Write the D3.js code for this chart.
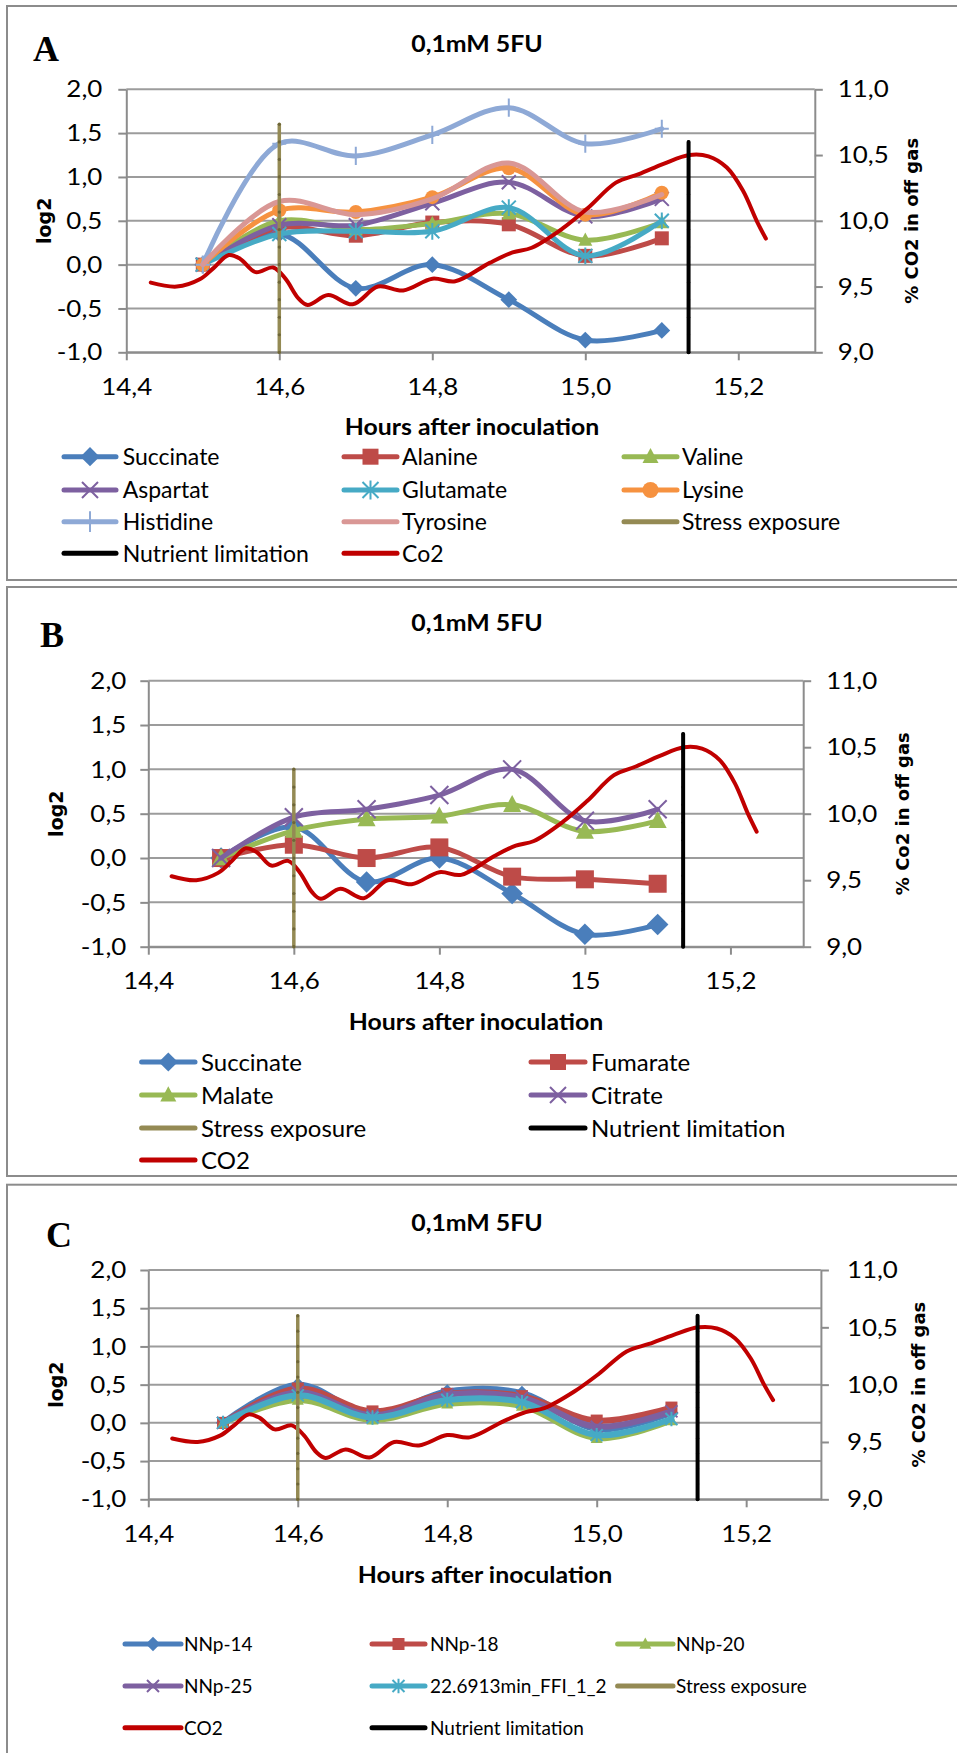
<!DOCTYPE html>
<html><head><meta charset="utf-8">
<script src="https://cdn.jsdelivr.net/npm/d3@7"></script>
<style>body{margin:0;background:#fff} svg{display:block}</style>
</head><body><svg id="chart" width="957" height="1753"></svg>
<script>
// ---------------- DATA ----------------
const hours = [14.5, 14.6, 14.7, 14.8, 14.9, 15.0, 15.1];
// Panel A
const succinate = [0, 0.35, -0.27, 0, -0.4, -0.86, -0.75];
const alanine   = [0, 0.42, 0.33, 0.48, 0.46, 0.1, 0.3];
const valine    = [0, 0.5, 0.4, 0.47, 0.58, 0.28, 0.48];
const aspartat  = [0, 0.45, 0.45, 0.7, 0.94, 0.55, 0.75];
const glutamate = [0, 0.35, 0.38, 0.38, 0.65, 0.1, 0.5];
const lysine    = [0, 0.62, 0.6, 0.77, 1.1, 0.57, 0.82];
const histidine = [0, 1.38, 1.24, 1.48, 1.79, 1.38, 1.55];
const tyrosine  = [0, 0.72, 0.57, 0.75, 1.16, 0.6, 0.8];
// Panel B
const fumarate  = [0, 0.15, 0, 0.12, -0.21, -0.24, -0.29];
const malate    = [0, 0.31, 0.44, 0.47, 0.6, 0.3, 0.42];
const citrate   = [0, 0.46, 0.55, 0.71, 1.0, 0.42, 0.55];
// Panel C
const nnp14     = [0, 0.5, 0.1, 0.41, 0.39, -0.08, 0.13];
const nnp18     = [0, 0.45, 0.15, 0.38, 0.35, 0.03, 0.2];
const nnp20     = [0, 0.3, 0.04, 0.25, 0.22, -0.2, 0.03];
const nnp25     = [0, 0.4, 0.1, 0.37, 0.33, -0.05, 0.15];
const ffi       = [0, 0.36, 0.07, 0.3, 0.27, -0.16, 0.05];
// CO2 in off gas (secondary axis)
const co2Hours  = [14.432, 14.466, 14.496, 14.514, 14.534, 14.549, 14.569, 14.592, 14.608, 14.625, 14.637, 14.664, 14.696, 14.729, 14.762, 14.800, 14.830, 14.875, 14.905, 14.930, 14.970, 15.003, 15.040, 15.070, 15.103, 15.136, 15.161, 15.185, 15.206, 15.224, 15.236];
const co2Values = [9.53, 9.50, 9.555, 9.64, 9.74, 9.71, 9.61, 9.645, 9.56, 9.41, 9.36, 9.435, 9.365, 9.50, 9.47, 9.56, 9.54, 9.68, 9.76, 9.795, 9.94, 10.095, 10.29, 10.355, 10.435, 10.50, 10.49, 10.405, 10.23, 10.0, 9.865];
// event markers (vertical series)
const stressHour = 14.6;
const nutrientHour = 15.135;
const stressA = [-1.0, -0.8, -0.6, -0.4, -0.2, 0.0, 0.2, 0.4, 0.6, 0.8, 1.0, 1.2, 1.4, 1.6];
const stressB = [-1.0, -0.8, -0.6, -0.4, -0.2, 0.0, 0.2, 0.4, 0.6, 0.8, 1.0];
const stressC = [-1.0, -0.8, -0.6, -0.4, -0.2, 0.0, 0.2, 0.4, 0.6, 0.8, 1.0, 1.2, 1.4];
const nutrientLevels = [-1.0, -0.8, -0.6, -0.4, -0.2, 0.0, 0.2, 0.4, 0.6, 0.8, 1.0, 1.2, 1.4];
// ticks
const xTicks = [14.4, 14.6, 14.8, 15.0, 15.2];
const xTickLabels  = ["14,4", "14,6", "14,8", "15,0", "15,2"];
const xTickLabelsB = ["14,4", "14,6", "14,8", "15", "15,2"];
const yTicks = [-1, -0.5, 0, 0.5, 1, 1.5, 2];
const yTickLabels = ["-1,0", "-0,5", "0,0", "0,5", "1,0", "1,5", "2,0"];
const y2Ticks = [9, 9.5, 10, 10.5, 11];
const y2TickLabels = ["9,0", "9,5", "10,0", "10,5", "11,0"];

// ---------------- STYLE ----------------
const C = {
  blue: "#4A7EBB", red: "#BE4B48", green: "#98B954", purple: "#7D60A0",
  teal: "#46AAC5", orange: "#F69240", lblue: "#8EA9D6", pink: "#D99795",
  olive: "#948A54", black: "#000000", co2: "#C00000"
};
const FONT = "Lato, 'Open Sans', sans-serif";
const SX = 1.08;   // slight horizontal stretch of the text, as in the reference
const svg = d3.select("#chart");

function stretch(sel) {
  sel.each(function () {
    const t = d3.select(this);
    const x0 = +t.attr("x") || 0;
    t.attr("x", x0 / SX).attr("transform", `scale(${SX},1)`);
  });
}

function marker(sel, type, cx, cy, s, color) {
  if (type === "diamond") {
    const k = s * 1.2;
    sel.append("path").attr("d", `M${cx},${cy-k}L${cx+k},${cy}L${cx},${cy+k}L${cx-k},${cy}Z`).attr("fill", color);
  } else if (type === "square") {
    sel.append("rect").attr("x", cx - s).attr("y", cy - s).attr("width", 2*s).attr("height", 2*s).attr("fill", color);
  } else if (type === "triangle") {
    sel.append("path").attr("d", `M${cx},${cy-s*1.1}L${cx+s},${cy+s*0.8}L${cx-s},${cy+s*0.8}Z`).attr("fill", color);
  } else if (type === "circle") {
    sel.append("circle").attr("cx", cx).attr("cy", cy).attr("r", s).attr("fill", color);
  } else if (type === "x") {
    sel.append("path").attr("d", `M${cx-s},${cy-s}L${cx+s},${cy+s}M${cx+s},${cy-s}L${cx-s},${cy+s}`).attr("stroke", color).attr("stroke-width", 2).attr("fill", "none");
  } else if (type === "asterisk") {
    sel.append("path").attr("d", `M${cx-s},${cy-s}L${cx+s},${cy+s}M${cx+s},${cy-s}L${cx-s},${cy+s}M${cx},${cy-s*1.2}L${cx},${cy+s*1.2}`).attr("stroke", color).attr("stroke-width", 2).attr("fill", "none");
  } else if (type === "plus") {
    sel.append("path").attr("d", `M${cx},${cy-s*1.3}L${cx},${cy+s*1.3}M${cx-s},${cy}L${cx+s},${cy}`).attr("stroke", color).attr("stroke-width", 2).attr("fill", "none");
  }
}

function drawPanel(cfg) {
  const g = svg.append("g");
  g.append("rect").attr("x", 7).attr("y", cfg.frameY).attr("width", 980).attr("height", cfg.frameH)
    .attr("fill", "none").attr("stroke", "#8c8c8c").attr("stroke-width", 2);

  const x = d3.scaleLinear().domain([14.4, 15.3]).range([cfg.l, cfg.r]);
  const y = d3.scaleLinear().domain([-1, 2]).range([cfg.b, cfg.t]);
  const y2 = d3.scaleLinear().domain([9, 11]).range([cfg.b, cfg.t]);

  // gridlines
  g.append("g").selectAll("line").data(yTicks).join("line")
    .attr("x1", cfg.l).attr("x2", cfg.r).attr("y1", d => y(d)).attr("y2", d => y(d))
    .attr("stroke", "#9c9c9c").attr("stroke-width", 2);

  const styleAxis = sel => {
    sel.select(".domain").attr("stroke", "#8c8c8c").attr("stroke-width", 2);
    sel.selectAll(".tick line").attr("stroke", "#8c8c8c").attr("stroke-width", 2);
    sel.selectAll("text").attr("font-family", FONT).attr("font-size", cfg.tickFs).attr("fill", "#000").call(stretch);
  };
  g.append("g").attr("transform", `translate(${cfg.l},0)`)
    .call(d3.axisLeft(y).tickValues(yTicks).tickFormat((d, i) => yTickLabels[i]).tickSize(8).tickSizeOuter(0).tickPadding(cfg.padL))
    .call(styleAxis);
  g.append("g").attr("transform", `translate(${cfg.r},0)`)
    .call(d3.axisRight(y2).tickValues(y2Ticks).tickFormat((d, i) => y2TickLabels[i]).tickSize(8).tickSizeOuter(0).tickPadding(cfg.padR))
    .call(styleAxis);
  g.append("g").attr("transform", `translate(0,${cfg.b})`)
    .call(d3.axisBottom(x).tickValues(xTicks).tickFormat((d, i) => cfg.xLabels[i]).tickSize(8).tickSizeOuter(0).tickPadding(cfg.padB))
    .call(styleAxis);

  // series
  const line = d3.line().x((d, i) => x(hours[i])).y(d => y(d)).curve(d3.curveCatmullRom);
  cfg.series.forEach(s => {
    const sg = g.append("g");
    sg.append("path").attr("d", line(s.values)).attr("fill", "none").attr("stroke", s.color)
      .attr("stroke-width", cfg.lw).attr("stroke-linejoin", "round").attr("stroke-linecap", "round");
    if (s.marker) s.values.forEach((v, i) => marker(sg, s.marker, x(hours[i]), y(v), cfg.ms, s.color));
  });

  // CO2
  const co2Line = d3.line().x((d, i) => x(co2Hours[i])).y(d => y2(d)).curve(d3.curveCatmullRom);
  g.append("path").attr("d", co2Line(co2Values)).attr("fill", "none").attr("stroke", C.co2)
    .attr("stroke-width", 4).attr("stroke-linecap", "round");

  // stress exposure / nutrient limitation
  const vline = (levels, hr, color, w, dot) => {
    const vl = d3.line().x(() => x(hr)).y(d => y(d));
    g.append("path").attr("d", vl(levels)).attr("stroke", color).attr("stroke-width", w).attr("fill", "none").attr("stroke-linecap", "round");
    g.append("g").selectAll("circle").data(levels).join("circle")
      .attr("cx", x(hr)).attr("cy", d => y(d)).attr("r", 1.6).attr("fill", dot);
  };
  vline(cfg.stress, stressHour, C.olive, 3.5, "#6e6638");
  vline(nutrientLevels, nutrientHour, C.black, 4, "#000");

  // texts
  g.append("text").attr("x", cfg.letter.x).attr("y", cfg.letter.y).text(cfg.letter.t)
    .attr("font-family", "'Liberation Serif', serif").attr("font-weight", "bold").attr("font-size", 36);
  g.append("text").attr("x", cfg.title.x).attr("y", cfg.title.y).attr("dy", "0.36em").attr("text-anchor", "middle").text("0,1mM 5FU")
    .attr("font-family", FONT).attr("font-weight", "bold").attr("font-size", 23).call(stretch);
  const ymid = (cfg.t + cfg.b) / 2;
  g.append("text").attr("transform", `translate(${cfg.yLabX},${ymid}) rotate(-90)`).attr("text-anchor", "middle")
    .attr("dy", "0.36em").text("log2")
    .attr("font-family", "'DejaVu Sans', sans-serif").attr("font-weight", "bold").attr("font-size", 19);
  g.append("text").attr("transform", `translate(${cfg.y2LabX},${ymid}) rotate(-90)`).attr("text-anchor", "middle")
    .attr("dy", "0.36em").text(cfg.y2Label)
    .attr("font-family", "'DejaVu Sans', sans-serif").attr("font-weight", "bold").attr("font-size", 18);
  g.append("text").attr("x", cfg.xTitle.x).attr("y", cfg.xTitle.y).attr("dy", "0.36em").attr("text-anchor", "middle")
    .text("Hours after inoculation").attr("font-family", FONT).attr("font-weight", "bold").attr("font-size", 23).call(stretch);

  // legend
  cfg.legend.items.forEach((it, k) => {
    const col = cfg.legend.cols[k % cfg.legend.cols.length];
    const ry = cfg.legend.rows[Math.floor(k / cfg.legend.cols.length)];
    const lg = g.append("g");
    lg.append("line").attr("x1", col[0]).attr("x2", col[1]).attr("y1", ry).attr("y2", ry)
      .attr("stroke", it.color).attr("stroke-width", 5).attr("stroke-linecap", "round");
    if (it.marker) marker(lg, it.marker, (col[0] + col[1]) / 2, ry, cfg.legend.ms, it.color);
    lg.append("text").attr("x", col[2]).attr("y", ry).attr("dy", "0.36em").text(it.name)
      .attr("font-family", FONT).attr("font-size", cfg.legend.fs);
  });
}

const seriesA = [
  {name: "Succinate", values: succinate, color: C.blue, marker: "diamond"},
  {name: "Alanine", values: alanine, color: C.red, marker: "square"},
  {name: "Valine", values: valine, color: C.green, marker: "triangle"},
  {name: "Aspartat", values: aspartat, color: C.purple, marker: "x"},
  {name: "Glutamate", values: glutamate, color: C.teal, marker: "asterisk"},
  {name: "Lysine", values: lysine, color: C.orange, marker: "circle"},
  {name: "Histidine", values: histidine, color: C.lblue, marker: "plus"},
  {name: "Tyrosine", values: tyrosine, color: C.pink, marker: null}
];
const seriesB = [
  {name: "Succinate", values: succinate, color: C.blue, marker: "diamond"},
  {name: "Fumarate", values: fumarate, color: C.red, marker: "square"},
  {name: "Malate", values: malate, color: C.green, marker: "triangle"},
  {name: "Citrate", values: citrate, color: C.purple, marker: "x"}
];
const seriesC = [
  {name: "NNp-14", values: nnp14, color: C.blue, marker: "diamond"},
  {name: "NNp-18", values: nnp18, color: C.red, marker: "square"},
  {name: "NNp-20", values: nnp20, color: C.green, marker: "triangle"},
  {name: "NNp-25", values: nnp25, color: C.purple, marker: "x"},
  {name: "22.6913min_FFI_1_2", values: ffi, color: C.teal, marker: "asterisk"}
];
const stressItem = {name: "Stress exposure", color: C.olive};
const nutrientItem = {name: "Nutrient limitation", color: C.black};

drawPanel({
  frameY: 6, frameH: 574, l: 126.3, r: 814.8, t: 89.3, b: 352.3,
  tickFs: 24, padL: 16, padR: 15, padB: 18, xLabels: xTickLabels,
  lw: 5, ms: 7, stress: stressA,
  letter: {x: 33, y: 61, t: "A"}, title: {x: 477, y: 44},
  yLabX: 44, y2LabX: 912, y2Label: "% CO2 in off gas", xTitle: {x: 472, y: 427},
  series: seriesA,
  legend: {rows: [456.7, 490, 521.7, 553.3], cols: [[64, 116, 122.7], [344, 397, 402], [624, 677, 682]], fs: 23, ms: 8,
    items: [...seriesA, stressItem, nutrientItem, {name: "Co2", color: C.co2}]}
});
drawPanel({
  frameY: 587, frameH: 589, l: 148.3, r: 803.2, t: 680.7, b: 946.7,
  tickFs: 24, padL: 14, padR: 15, padB: 17, xLabels: xTickLabelsB,
  lw: 5, ms: 9, stress: stressB,
  letter: {x: 40, y: 647, t: "B"}, title: {x: 477, y: 623},
  yLabX: 56, y2LabX: 903, y2Label: "% Co2 in off gas", xTitle: {x: 476, y: 1021.7},
  series: seriesB,
  legend: {rows: [1062, 1095, 1128, 1160], cols: [[141.6, 195, 201], [531, 585, 591]], fs: 24, ms: 8,
    items: [...seriesB, stressItem, nutrientItem, {name: "CO2", color: C.co2}]}
});
drawPanel({
  frameY: 1184.7, frameH: 620, l: 148.3, r: 820.9, t: 1270, b: 1499.3,
  tickFs: 24, padL: 14, padR: 18, padB: 18, xLabels: xTickLabels,
  lw: 6, ms: 6, stress: stressC,
  letter: {x: 46, y: 1247, t: "C"}, title: {x: 477, y: 1222.5},
  yLabX: 56, y2LabX: 918.5, y2Label: "% CO2 in off gas", xTitle: {x: 485, y: 1575},
  series: seriesC,
  legend: {rows: [1644, 1686, 1727.7], cols: [[125, 181, 184], [372, 425, 430], [617.6, 673, 676]], fs: 19, ms: 6,
    items: [...seriesC, stressItem, {name: "CO2", color: C.co2}, nutrientItem]}
});
</script></body></html>
